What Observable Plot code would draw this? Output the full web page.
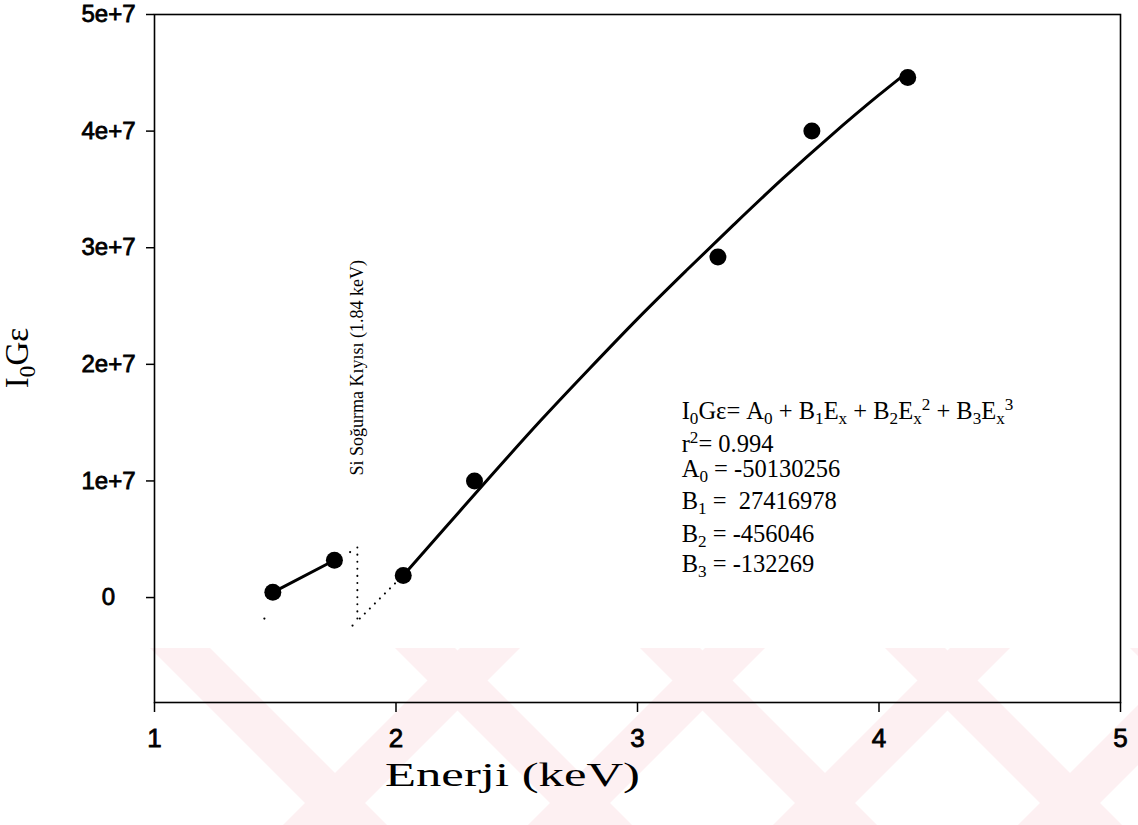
<!DOCTYPE html>
<html><head><meta charset="utf-8">
<script src="https://cdn.jsdelivr.net/npm/d3@7"></script>
<script src="https://cdn.jsdelivr.net/npm/@observablehq/plot@0.6"></script>
<style>
html,body{margin:0;padding:0;background:#fff;}
#wrap{position:relative;width:1138px;height:825px;overflow:hidden;}
#wm{position:absolute;left:0;top:0;}
#chart{position:absolute;left:0;top:0;}
</style></head><body>
<div id="wrap"><svg id="wm" width="1138" height="825"></svg><div id="chart"></div></div>
<script>
// measured points
const energy    = [1.49, 1.745, 2.03, 2.325, 3.333, 3.722, 4.119];
const intensity = [4.5e5, 3.2e6, 1.9e6, 1.0e7, 2.92e7, 4.0e7, 4.46e7];
// low-energy segment (below the Si edge)
const lowE = [1.49, 1.745];
const lowI = [4.5e5, 3.2e6];
// fitted curve
const fitE = [2.03, 2.2, 2.4, 2.6, 2.8, 3.0, 3.2, 3.4, 3.6, 3.8, 4.0, 4.09];
const fitI = [1.9e6, 5.9e6, 1.06e7, 1.52e7, 1.96e7, 2.39e7, 2.80e7, 3.20e7, 3.59e7, 3.96e7, 4.31e7, 4.46e7];
// dotted Si absorption edge marker and extrapolation
const edgeE = [1.84, 1.84];
const edgeI = [-1.8e6, 4.3e6];
const extE = [1.85, 2.0];
const extI = [-1.8e6, 1.3e6];
const strayE = [1.455, 1.81, 1.82];
const strayI = [-1.8e6, 3.9e6, -2.4e6];
// axes
const xTicks = [1, 2, 3, 4, 5];
const yTicks = [0, 1e7, 2e7, 3e7, 4e7, 5e7];
const xDomain = [1, 5];
const yDomain = [-9e6, 5e7];
// texts
const edgeLabel = "Si Soğurma Kıyısı (1.84 keV)";
const edgeLabelPos = {x: 1.84, y: 1.97e7};
const xLabel = "Enerji (keV)";
const fitLines = [
  [["I","n"],["0","sub"],["Gε= A","n"],["0","sub"],[" + B","n"],["1","sub"],["E","n"],["x","sub"],[" + B","n"],["2","sub"],["E","n"],["x","sub"],["2","sup"],[" + B","n"],["3","sub"],["E","n"],["x","sub"],["3","sup"]],
  [["r","n"],["2","sup"],["= 0.994","n"]],
  [["A","n"],["0","sub"],[" = -50130256","n"]],
  [["B","n"],["1","sub"],[" =  27416978","n"]],
  [["B","n"],["2","sub"],[" = -456046","n"]],
  [["B","n"],["3","sub"],[" = -132269","n"]]
];

const pts = energy.map((e,i)=>({e, v:intensity[i]}));
const low = lowE.map((e,i)=>({e, v:lowI[i]}));
const fit = fitE.map((e,i)=>({e, v:fitI[i]}));
const edge = edgeE.map((e,i)=>({e, v:edgeI[i]}));
const ext = extE.map((e,i)=>({e, v:extI[i]}));
const stray = strayE.map((e,i)=>({e, v:strayI[i]}));

const serif = "'Liberation Serif','Times New Roman',serif";
const sans = "'Liberation Sans',Arial,sans-serif";
const yFmt = d => d === 0 ? "0" : d3.format(".0e")(d);
const dotted = {stroke:"#000", strokeWidth:2, strokeDasharray:"0.1,7", strokeLinecap:"round"};

const plot = Plot.plot({
  width:1138, height:825,
  marginLeft:154, marginRight:18, marginTop:14, marginBottom:123,
  style:{background:"transparent", fontFamily:sans, color:"#000"},
  x:{domain:xDomain},
  y:{domain:yDomain},
  marks:[
    Plot.frame({stroke:"#000", strokeWidth:1.6}),
    Plot.axisX({ticks:xTicks, tickSize:10, tickPadding:16, fontSize:26, label:null, tickFormat:d=>String(d), strokeWidth:1.5}),
    Plot.axisY({ticks:yTicks, tickSize:8, tickPadding:38, textAnchor:"middle", fontSize:24, label:null, tickFormat:yFmt, strokeWidth:1.5}),
    Plot.line(fit, {x:"e", y:"v", stroke:"#000", strokeWidth:3, curve:"monotone-x"}),
    Plot.line(low, {x:"e", y:"v", stroke:"#000", strokeWidth:3}),
    Plot.line(edge, {x:"e", y:"v", ...dotted}),
    Plot.line(ext, {x:"e", y:"v", ...dotted}),
    Plot.dot(stray, {x:"e", y:"v", r:1.1, fill:"#000"}),
    Plot.dot(pts, {x:"e", y:"v", r:8.5, fill:"#000"}),
    Plot.text([edgeLabel], {x:()=>edgeLabelPos.x, y:()=>edgeLabelPos.y, rotate:-90, fontFamily:serif, fontSize:18, fill:"#000"}),
    Plot.text([xLabel], {frameAnchor:"bottom", dx:-125, dy:73, fontFamily:serif, fontSize:34, fill:"#000", lineAnchor:"middle"})
  ]
});
document.getElementById("chart").appendChild(plot);

const svg = d3.select(plot);
svg.selectAll("text").style("font-weight","normal");
// stretch x label like the scanned original
svg.selectAll("text").filter(function(){return this.textContent===xLabel;})
  .attr("textLength",255).attr("lengthAdjust","spacingAndGlyphs");
// tick labels a bit heavier, like the scan
svg.selectAll("[aria-label='y-axis tick label'] text, [aria-label='x-axis tick label'] text")
  .style("stroke","#000").style("stroke-width","0.8px");

const sx = plot.scale("x"), sy = plot.scale("y");
function rich(g, x, y, parts, size){
  const t = g.append("text").attr("x",x).attr("y",y).attr("font-family",serif).attr("font-size",size).attr("fill","#000");
  let shift = 0;
  for (const [s,k] of parts){
    const target = k==="sub" ? size*0.22 : k==="sup" ? -size*0.36 : 0;
    const ts = t.append("tspan").text(s).attr("dy", target - shift);
    if (k!=="n") ts.attr("font-size", size*0.7);
    shift = target;
  }
  return t;
}
// y axis label I0Gε
const yl = svg.append("g").attr("transform",`translate(${sx.apply(xDomain[0]) - 126},${(sy.apply(yDomain[0])+sy.apply(yDomain[1]))/2}) rotate(-90)`);
rich(yl, 0, 0, [["I","n"],["0","sub"],["Gε","n"]], 33).attr("text-anchor","middle");
// fit annotation block
const ax = sx.apply(3.185), ay0 = sy.apply(1.528e7);
const ag = svg.append("g").attr("text-anchor","start");
const lineY = [0, 33, 58, 90, 123, 153];
fitLines.forEach((p,i)=> rich(ag, ax, ay0 + lineY[i], p, 24.5).attr("text-anchor","start"));

// watermark chevrons (background decoration)
const wm = d3.select("#wm");
for (let k=0;k<5;k++){
  const x0 = 150 + 245*k;
  wm.append("polygon").attr("points",`${x0},648 ${x0+60},648 ${x0+237},825 ${x0+177},825`).attr("fill","#fdf0f2");
  wm.append("polygon").attr("points",`${x0+310},648 ${x0+370},648 ${x0+193},825 ${x0+133},825`).attr("fill","#fdf0f2");
}
</script>
</body></html>
